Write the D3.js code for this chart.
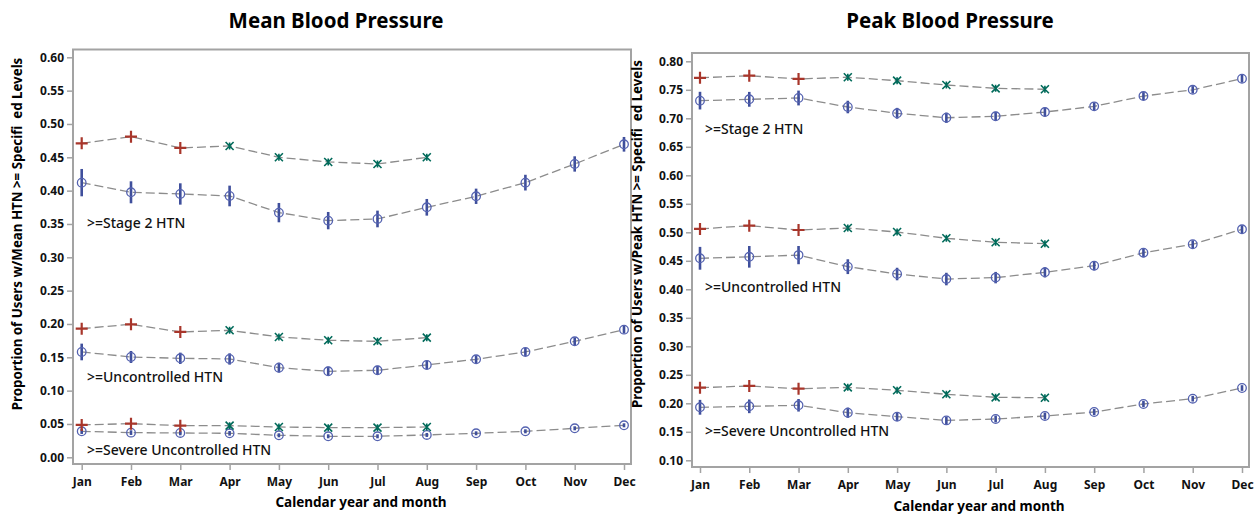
<!DOCTYPE html>
<html>
<head>
<meta charset="utf-8">
<script src="https://cdn.jsdelivr.net/npm/d3@7"></script>
<style>
  body { margin: 0; background: #fff; }
  text { font-family: "Noto Sans", "Open Sans", sans-serif; }
</style>
</head>
<body>
<script>
// month categories
var months = ["Jan","Feb","Mar","Apr","May","Jun","Jul","Aug","Sep","Oct","Nov","Dec"];
// symbol of the earlier (8 month) series
var priorSymbols = ["plus","plus","plus","x","x","x","x","x"];

// Mean BP panel
var meanStage2Prior = [0.471,0.481,0.464,0.467,0.450,0.443,0.440,0.450];
var meanStage2 = [0.412,0.3975,0.395,0.392,0.367,0.355,0.3575,0.375,0.3915,0.412,0.440,0.4695];
var meanStage2Err = [0.0205,0.0165,0.016,0.0155,0.0145,0.013,0.0125,0.0125,0.0115,0.0118,0.0115,0.011];
var meanUnctrlPrior = [0.193,0.1995,0.188,0.1905,0.1805,0.1755,0.174,0.1795];
var meanUnctrl = [0.158,0.1505,0.1485,0.1475,0.1345,0.129,0.1305,0.1385,0.147,0.158,0.174,0.1915];
var meanUnctrlErr = [0.0125,0.009,0.0085,0.0085,0.0075,0.007,0.0068,0.0065,0.006,0.006,0.0058,0.0055];
var meanSevPrior = [0.0485,0.0505,0.0475,0.0475,0.0455,0.0445,0.0445,0.0455];
var meanSev = [0.039,0.037,0.0365,0.036,0.033,0.0315,0.0315,0.0335,0.036,0.039,0.0435,0.048];
var meanSevErr = [0.004,0.0035,0.0035,0.0035,0.003,0.003,0.003,0.003,0.003,0.003,0.003,0.003];

// Peak BP panel
var peakStage2Prior = [0.771,0.7747,0.769,0.772,0.766,0.7584,0.7526,0.751];
var peakStage2 = [0.731,0.7333,0.7356,0.7198,0.7088,0.701,0.7035,0.711,0.721,0.739,0.750,0.7695];
var peakStage2Err = [0.0155,0.013,0.013,0.011,0.0095,0.009,0.008,0.008,0.007,0.007,0.0065,0.0065];
var peakUnctrlPrior = [0.506,0.5116,0.504,0.5075,0.5005,0.4895,0.4825,0.480];
var peakUnctrl = [0.4544,0.457,0.460,0.4397,0.4268,0.418,0.4205,0.4298,0.4414,0.4642,0.479,0.5053];
var peakUnctrlErr = [0.02,0.019,0.016,0.013,0.011,0.011,0.010,0.009,0.008,0.008,0.007,0.007];
var peakSevPrior = [0.2274,0.2304,0.2256,0.228,0.2228,0.2158,0.2105,0.2098];
var peakSev = [0.193,0.1947,0.1965,0.1835,0.1765,0.170,0.1725,0.1777,0.1847,0.1988,0.2081,0.2268];
var peakSevErr = [0.013,0.012,0.011,0.009,0.0075,0.0065,0.006,0.006,0.0055,0.0055,0.005,0.005];

var meanTicks = [0,0.05,0.10,0.15,0.20,0.25,0.30,0.35,0.40,0.45,0.50,0.55,0.60];
var peakTicks = [0.10,0.15,0.20,0.25,0.30,0.35,0.40,0.45,0.50,0.55,0.60,0.65,0.70,0.75,0.80];
var levelLabels = [">=Stage 2 HTN", ">=Uncontrolled HTN", ">=Severe Uncontrolled HTN"];

var width = 1254, height = 514;
var red = "#a8362b", teal = "#006a5a", blue = "#3f4f9c", frameGrey = "#a3a3a3";

var svg = d3.select("body").append("svg")
    .attr("width", width)
    .attr("height", height);

var panels = [
  { title: "Mean Blood Pressure", ytitle: "Proportion of Users w/Mean HTN >= Specifi\u00a0\u00a0ed Levels",
    box: [73, 49.5, 631, 464], xr: [81.7, 624], yd: [0, 0.6], yr: [457.3, 57.3], ticks: meanTicks,
    titleX: 336, ytitleX: 22, xtitleX: 361, xtitleY: 507, labelX: 87,
    labelVals: [0.352, 0.121, 0.011],
    groups: [[meanStage2Prior, meanStage2, meanStage2Err], [meanUnctrlPrior, meanUnctrl, meanUnctrlErr], [meanSevPrior, meanSev, meanSevErr]] },
  { title: "Peak Blood Pressure", ytitle: "Proportion of Users w/Peak HTN >= Specifi\u00a0\u00a0ed Levels",
    box: [692, 53, 1249, 467], xr: [700, 1242], yd: [0.1, 0.8], yr: [460.3, 61.3], ticks: peakTicks,
    titleX: 950, ytitleX: 642, xtitleX: 979, xtitleY: 511, labelX: 705,
    labelVals: [0.6807, 0.4035, 0.152],
    groups: [[peakStage2Prior, peakStage2, peakStage2Err], [peakUnctrlPrior, peakUnctrl, peakUnctrlErr], [peakSevPrior, peakSev, peakSevErr]] }
];

panels.forEach(function(p) {
  var x = d3.scalePoint().domain(months).range(p.xr);
  var y = d3.scaleLinear().domain(p.yd).range(p.yr);
  var g = svg.append("g");
  var b = p.box;

  // title
  g.append("text")
    .attr("x", p.titleX).attr("y", 28)
    .attr("text-anchor", "middle")
    .style("font-size", "20.5px").style("font-weight", "bold")
    .text(p.title);

  // frame
  g.append("rect")
    .attr("x", b[0]).attr("y", b[1])
    .attr("width", b[2] - b[0]).attr("height", b[3] - b[1])
    .attr("fill", "none").attr("stroke", frameGrey).attr("stroke-width", 2);

  // y axis
  var ya = g.append("g")
    .attr("transform", "translate(" + b[0] + ",0)")
    .call(d3.axisLeft(y).tickValues(p.ticks).tickSize(6).tickPadding(3).tickFormat(d3.format(".2f")));
  // x axis
  var xa = g.append("g")
    .attr("transform", "translate(0," + b[3] + ")")
    .call(d3.axisBottom(x).tickSize(6).tickPadding(7));
  [ya, xa].forEach(function(a) {
    a.select(".domain").remove();
    a.selectAll(".tick line").attr("stroke", frameGrey).attr("stroke-width", 1.5);
    a.selectAll(".tick text")
      .attr("fill", "#111")
      .style("font-size", "12px").style("font-weight", "bold")
      .style("font-family", "'Noto Sans', sans-serif");
  });

  // axis titles
  g.append("text")
    .attr("x", p.xtitleX).attr("y", p.xtitleY)
    .attr("text-anchor", "middle")
    .style("font-size", "13.5px").style("font-weight", "bold")
    .text("Calendar year and month");
  g.append("text")
    .attr("transform", "translate(" + p.ytitleX + "," + 234 + ") rotate(-90)")
    .attr("text-anchor", "middle")
    .style("font-size", "13.3px").style("font-weight", "bold")
    .text(p.ytitle);

  var line = d3.line()
    .x(function(d, i) { return x(months[i]); })
    .y(function(d) { return y(d); });

  p.groups.forEach(function(grp, gi) {
    var prior = grp[0], cur = grp[1], err = grp[2];

    // dashed connecting lines
    [prior, cur].forEach(function(s) {
      g.append("path")
        .datum(s)
        .attr("d", line)
        .attr("fill", "none")
        .attr("stroke", "#8c8c8c")
        .attr("stroke-width", 1.3)
        .attr("stroke-dasharray", "9,4");
    });

    // error bars for current series
    g.selectAll(null)
      .data(cur)
      .enter().append("line")
      .attr("x1", function(d, i) { return x(months[i]); })
      .attr("x2", function(d, i) { return x(months[i]); })
      .attr("y1", function(d, i) { return y(d + err[i]); })
      .attr("y2", function(d, i) { return y(d - err[i]); })
      .attr("stroke", blue)
      .attr("stroke-width", 2.6);

    // open circles
    g.selectAll(null)
      .data(cur)
      .enter().append("circle")
      .attr("cx", function(d, i) { return x(months[i]); })
      .attr("cy", function(d) { return y(d); })
      .attr("r", 4.3)
      .attr("fill", "none")
      .attr("stroke", "#5462b0")
      .attr("stroke-width", 1.3);

    // prior series markers
    g.selectAll(null)
      .data(prior)
      .enter().append("path")
      .attr("transform", function(d, i) { return "translate(" + x(months[i]) + "," + y(d) + ")"; })
      .attr("d", function(d, i) {
        return priorSymbols[i] == "plus" ? "M-6,0H6M0,-6V6" : "M-4,-4L4,4M4,-4L-4,4M0,-3.5V3.5";
      })
      .attr("fill", "none")
      .attr("stroke", function(d, i) { return priorSymbols[i] == "plus" ? red : teal; })
      .attr("stroke-width", function(d, i) { return priorSymbols[i] == "plus" ? 2.2 : 1.6; });

    // level label
    g.append("text")
      .attr("x", p.labelX)
      .attr("y", y(p.labelVals[gi]))
      .attr("dy", "0.35em")
      .style("font-size", "14px")
      .style("font-weight", "500")
      .attr("fill", "#111")
      .text(levelLabels[gi]);
  });
});
</script>
</body>
</html>
